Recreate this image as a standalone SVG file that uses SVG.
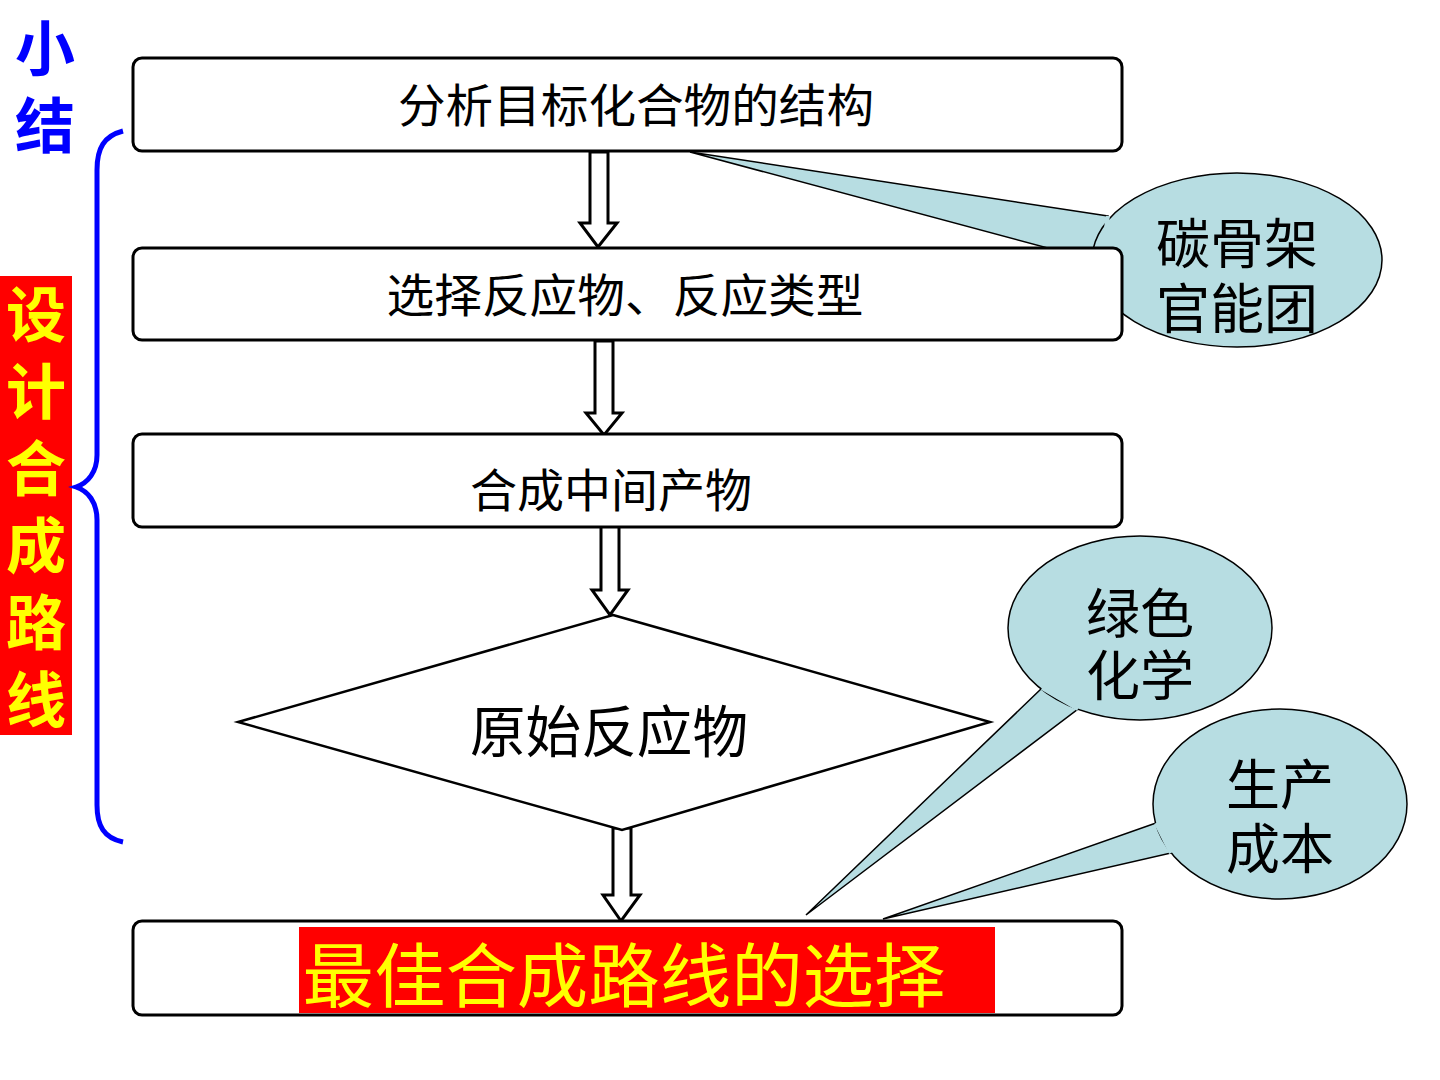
<svg xmlns="http://www.w3.org/2000/svg" width="1440" height="1080" viewBox="0 0 1440 1080">
<style>
.box{fill:#fff;stroke:#000;stroke-width:3}
.arr{fill:#fff;stroke:#000;stroke-width:3;stroke-linejoin:miter}
.call{fill:#b7dde2;stroke:#000;stroke-width:1.5}
.t{font-family:"Noto Sans CJK SC","Noto Sans",sans-serif;fill:#000;text-anchor:middle;dominant-baseline:central}
.v{font-family:"Noto Sans CJK SC","Noto Sans",sans-serif;writing-mode:vertical-rl;text-anchor:start;font-size:60px;font-weight:bold;letter-spacing:17px}
.ct{font-family:"Noto Sans CJK SC","Noto Sans",sans-serif;fill:#000;text-anchor:middle;dominant-baseline:central;font-size:54px}
.y{fill:#ffff00}
</style>
<rect width="1440" height="1080" fill="#fff"/>
<g id="title">
<text class="v" x="45" y="18" fill="#0000ff">小结</text>
</g>
<g id="side-label">
<rect x="0" y="276" width="72" height="459" fill="#ff0000"/>
<text class="v" x="36" y="284" fill="#ffff00">设计合成路线</text>
</g>
<g id="brace">
<path d="M123,131 C104,136 97,148 97,170 L97,455 C97,472 88,483 76,487 C88,491 97,502 97,520 L97,805 C97,826 104,838 123,842" fill="none" stroke="#0000ff" stroke-width="5"/>
</g>
<g id="callout-skeleton">
<path class="call" d="M1108,216 L690,152 L1100,262 Z"/>
<ellipse class="call" cx="1237" cy="260" rx="145" ry="87"/>
<path d="M1108,216 L1100,262" stroke="#b7dde2" stroke-width="4"/>
<text class="ct" x="1237" y="240">碳骨架<tspan x="1237" dy="65">官能团</tspan></text>
</g>
<g id="callout-green">
<path class="call" d="M1042,688 L806,915 L1078,709 Z"/>
<ellipse class="call" cx="1140" cy="628" rx="132" ry="92"/>
<path d="M1042,688 L1078,709" stroke="#b7dde2" stroke-width="4"/>
<text class="ct" x="1140" y="610">绿色<tspan x="1140" dy="62">化学</tspan></text>
</g>
<g id="callout-cost">
<path class="call" d="M1156,823 L883,919 L1171,853 Z"/>
<ellipse class="call" cx="1280" cy="804" rx="127" ry="95"/>
<path d="M1156,823 L1171,853" stroke="#b7dde2" stroke-width="4"/>
<text class="ct" x="1280" y="781">生产<tspan x="1280" dy="64">成本</tspan></text>
</g>
<g id="connectors">
<polygon class="arr" points="590,152 608,152 608,223 617,223 598,247 580,223 590,223"/>
<polygon class="arr" points="595,341 613,341 613,413 622,413 604,435 586,413 595,413"/>
<polygon class="arr" points="601,525 619,525 619,590 628,590 610,615 592,590 601,590"/>
<polygon class="arr" points="613,828 631,828 631,895 640,895 621,921 603,895 613,895"/>
</g>
<g id="node-analyze">
<rect class="box" x="133" y="58" width="989" height="93" rx="9"/>
<text class="t" x="636" y="102" font-size="46" textLength="476" lengthAdjust="spacingAndGlyphs">分析目标化合物的结构</text>
</g>
<g id="node-select">
<rect class="box" x="133" y="248" width="989" height="92" rx="9"/>
<text class="t" x="625" y="292" font-size="46" textLength="477" lengthAdjust="spacingAndGlyphs">选择反应物、反应类型</text>
</g>
<g id="node-intermediate">
<rect class="box" x="133" y="434" width="989" height="93" rx="9"/>
<text class="t" x="611" y="487" font-size="46" textLength="282" lengthAdjust="spacingAndGlyphs">合成中间产物</text>
</g>
<g id="node-raw">
<polygon class="box" points="613,615 990,722 622,830 238,722" style="stroke-width:2.5"/>
<text class="t" x="609" y="727" font-size="56" textLength="278" lengthAdjust="spacingAndGlyphs">原始反应物</text>
</g>
<g id="node-best">
<rect class="box" x="133" y="921" width="989" height="94" rx="9"/>
<rect x="299" y="927" width="696" height="86" fill="#ff0000"/>
<text class="t y" x="624" y="971" font-size="70" textLength="643" lengthAdjust="spacingAndGlyphs">最佳合成路线的选择</text>
</g>
</svg>
